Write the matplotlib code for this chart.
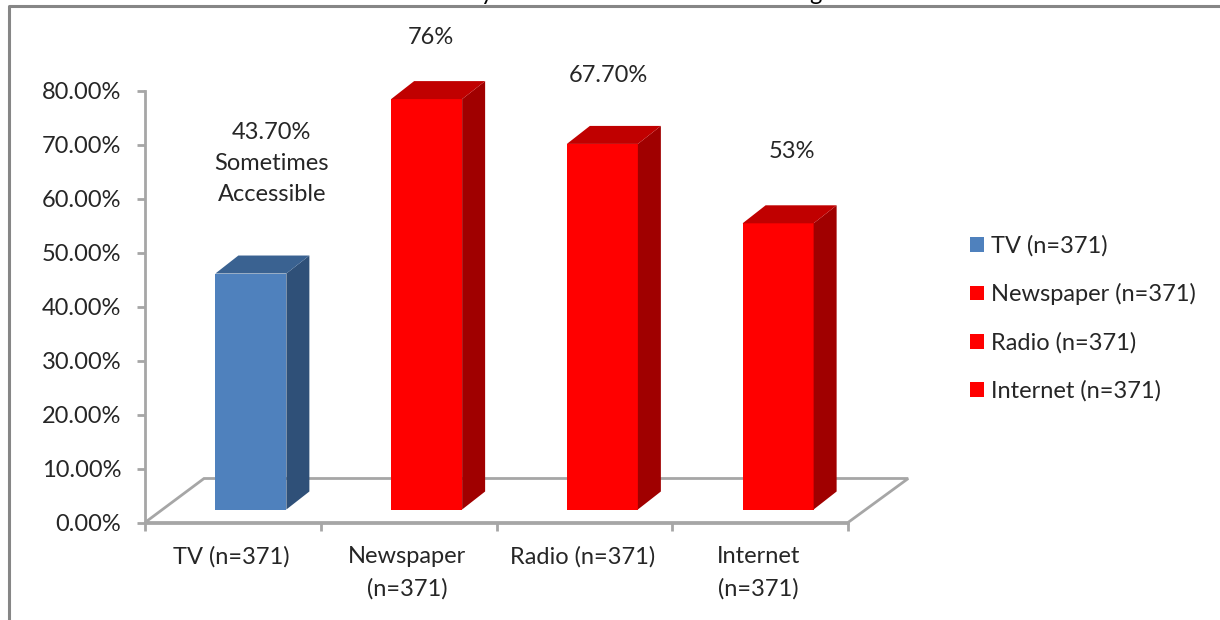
import matplotlib
matplotlib.use("Agg")
import matplotlib.pyplot as plt
from matplotlib.patches import Polygon

plt.rcParams['font.family'] = ['Lato', 'DejaVu Sans']

# datos
categorias = ['TV (n=371)', 'Newspaper\n(n=371)', 'Radio (n=371)', 'Internet\n(n=371)']
leyenda = ['TV (n=371)', 'Newspaper (n=371)', 'Radio (n=371)', 'Internet (n=371)']
valores = [43.7, 76, 67.7, 53]
etiquetas = ['43.70%\nSometimes\nAccessible', '76%', '67.70%', '53%']
ticks_y = [0, 10, 20, 30, 40, 50, 60, 70, 80]

# colores: frente, tapa, lateral
frente = ['#4F81BD', '#FF0000', '#FF0000', '#FF0000']
tapa = ['#3A6291', '#C00000', '#C00000', '#C00000']
lateral = ['#2F5078', '#A00000', '#A00000', '#A00000']
gris = '#A6A6A6'
texto = '#262626'
tam = 17

W, H = 1220, 620
fig = plt.figure(figsize=(W / 100, H / 100), dpi=100)
# ejes ubicados en pixeles de la imagen
x0, x1, y0, y1 = 145, 848, 522.5, 90.5
ax = fig.add_axes([x0 / W, 1 - y0 / H, (x1 - x0) / W, (y0 - y1) / H])
ax.set_xlim(0, 4)
ax.set_ylim(0, 80)
ax.patch.set_alpha(0)

# profundidad del efecto 3D en unidades de datos
px_x = 4 / (x1 - x0)
px_y = 80 / (y0 - y1)
prof_x = 23 * px_x
prof_y = 18 * px_y
base = 13 * px_y
ancho = 71 * px_x
piso_x = 59 * px_x
piso_y = 44 * px_y
corrimiento = 18 * px_x

# piso
ax.add_patch(Polygon([(0, 0), (piso_x, piso_y), (4 + piso_x * 1.02, piso_y), (4, 0)],
                     closed=True, fill=False, edgecolor=gris, lw=2, clip_on=False,
                     joinstyle='miter', zorder=1))

# barras
centros = [i + 0.5 for i in range(len(valores))]
posiciones = [c + corrimiento for c in centros]
for i, v in enumerate(valores):
    izq = posiciones[i] - ancho / 2
    der = izq + ancho
    tope = base + v
    ax.bar(posiciones[i], v, width=ancho, bottom=base, color=frente[i],
           zorder=3, label=leyenda[i], clip_on=False)
    ax.add_patch(Polygon([(der, base), (der + prof_x, base + prof_y),
                          (der + prof_x, tope + prof_y), (der, tope)],
                         closed=True, color=lateral[i], lw=0, clip_on=False, zorder=3))
    ax.add_patch(Polygon([(izq, tope), (izq + prof_x, tope + prof_y),
                          (der + prof_x, tope + prof_y), (der, tope)],
                         closed=True, color=tapa[i], lw=0, clip_on=False, zorder=3))

# etiquetas de datos, desplazadas respecto de la barra
desplazamientos = [(15, 49), (3, 37), (4, 42), (10, 44)]
for i, v in enumerate(valores):
    ax.annotate(etiquetas[i], (posiciones[i], base + v), xytext=desplazamientos[i],
                textcoords='offset points', ha='center', va='bottom', fontsize=tam,
                color=texto, linespacing=1.6, annotation_clip=False)

# ejes
ax.set_yticks(ticks_y)
ax.set_yticklabels([f'{t:.2f}%' for t in ticks_y], fontsize=tam, color=texto)
ax.set_xticks(range(5))
ax.set_xticklabels([''] * 5)
ax.tick_params(axis='both', color=gris, width=2, length=6)
ax.tick_params(axis='y', pad=11)
for lado in ['top', 'right']:
    ax.spines[lado].set_visible(False)
for lado in ['left', 'bottom']:
    ax.spines[lado].set_color(gris)
    ax.spines[lado].set_linewidth(2)

for i, c in enumerate(categorias):
    ax.annotate(c, (centros[i], 0), xytext=(-1, -17), textcoords='offset points',
                ha='center', va='top', fontsize=tam, color=texto, linespacing=1.6,
                annotation_clip=False)

# leyenda
h, l = ax.get_legend_handles_labels()
fig.legend(h, l, loc='upper left', bbox_to_anchor=(970 / W, 1 - 235 / H), frameon=False,
           fontsize=tam, handlelength=0.59, handleheight=0.59, handletextpad=0.3,
           labelspacing=1.13, labelcolor=texto, borderpad=0, borderaxespad=0)

# marco exterior
fig.add_artist(plt.Line2D([8.5 / W, 8.5 / W, 1], [0, 1 - 6 / H, 1 - 6 / H],
                          color='#868686', lw=2.2))

# el titulo original esta cortado arriba: solo asoman dos descendentes
for letra, px in [('y', 487), ('g', 815)]:
    fig.text(px / W, 1.0, letra, fontsize=tam, color='black', ha='center', va='baseline')

fig.savefig('out.png', dpi=100)
